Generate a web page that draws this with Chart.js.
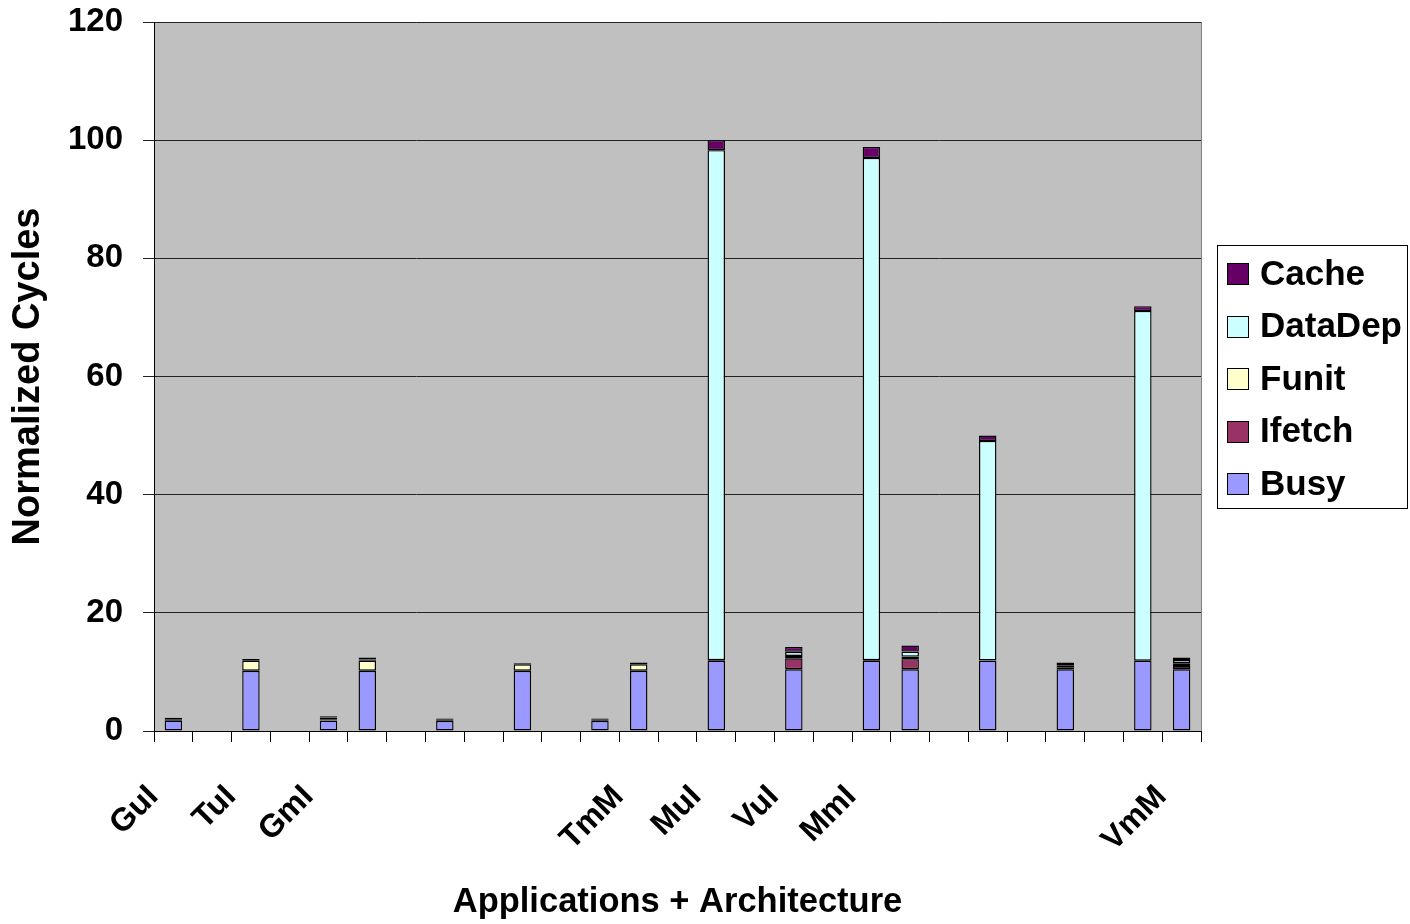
<!DOCTYPE html>
<html>
<head>
<meta charset="utf-8">
<title>Normalized Cycles</title>
<script src="https://cdn.jsdelivr.net/npm/chart.js@4.4.0/dist/chart.umd.min.js"></script>
<style>
  html, body { margin: 0; padding: 0; background: #fff; }
  #wrap { width: 1410px; height: 924px; }
</style>
</head>
<body>
<div id="wrap"><canvas id="c" width="1410" height="924"></canvas></div>
<script>
// Categories along the x axis (blank slots carry no printed name)
const categories = ['GuI', '', 'TuI', '', 'GmI', '', '', '', '', '', '', '', 'TmM', '',
                    'MuI', '', 'VuI', '', 'MmI', '', '', '', '', '', '', '', 'VmM'];

// Stacked cycle components per category
const busy    = [1.75, 0, 10.2, 0, 1.75, 10.2, 0, 1.7, 0, 10.2, 0, 1.7, 10.2, 0, 11.9, 0, 10.45, 0, 11.9, 10.45, 0, 11.9, 0, 10.45, 0, 11.9, 10.45];
const ifetch  = [0, 0, 0, 0, 0.05, 0, 0, 0, 0, 0, 0, 0, 0, 0, 0, 0, 1.85, 0, 0, 1.7, 0, 0, 0, 0.35, 0, 0, 0.55];
const funit   = [0.1, 0, 1.7, 0, 0.1, 1.7, 0, 0.1, 0, 1.1, 0, 0.1, 1.1, 0, 0.1, 0, 0.4, 0, 0.1, 0.45, 0, 0.05, 0, 0.25, 0, 0, 0.45];
const dataDep = [0.15, 0, 0.1, 0, 0.4, 0.2, 0, 0.1, 0, 0.05, 0, 0.1, 0.05, 0, 86.3, 0, 0.7, 0, 85.0, 0.85, 0, 37.15, 0, 0.3, 0, 59.2, 0.55];
const cache   = [0.25, 0, 0.2, 0, 0.2, 0.35, 0, 0.2, 0, 0.1, 0, 0.2, 0.25, 0, 1.7, 0, 0.8, 0, 1.85, 1.0, 0, 0.9, 0, 0.25, 0, 0.8, 0.45];

// Y axis range
const yMin = 0, yMax = 120, yStep = 20;

const FONT = "'Liberation Sans', Arial, Helvetica, sans-serif";

function series(label, data, color) {
  return {
    label, data,
    backgroundColor: color,
    borderColor: '#000',
    borderWidth: 1.4,
    borderSkipped: false,
    barPercentage: 0.45,
    categoryPercentage: 1.0
  };
}

// Gray plot area with a thin gray frame
const plotBackground = {
  id: 'plotBackground',
  beforeDraw(chart) {
    const { ctx, chartArea: a } = chart;
    ctx.save();
    ctx.fillStyle = '#C0C0C0';
    ctx.fillRect(a.left, a.top, a.right - a.left, a.bottom - a.top);
    ctx.strokeStyle = '#808080';
    ctx.lineWidth = 1;
    ctx.strokeRect(Math.round(a.left) + 0.5, Math.round(a.top) + 0.5,
                   Math.round(a.right - a.left), Math.round(a.bottom - a.top));
    ctx.restore();
  }
};

// Boxed legend to the right of the plot, top series first
const boxedLegend = {
  id: 'boxedLegend',
  afterDraw(chart) {
    const { ctx, chartArea: a } = chart;
    const w = 190, h = 263;
    const x0 = Math.round(a.right) + 16;
    const y0 = Math.round((a.top + a.bottom) / 2 - h / 2);
    ctx.save();
    ctx.fillStyle = '#fff';
    ctx.fillRect(x0, y0, w, h);
    ctx.strokeStyle = '#000';
    ctx.lineWidth = 1;
    ctx.strokeRect(x0 + 0.5, y0 + 0.5, w, h);
    const items = chart.data.datasets.slice().reverse();
    ctx.font = `bold 35px ${FONT}`;
    ctx.textBaseline = 'middle';
    ctx.textAlign = 'left';
    items.forEach((d, i) => {
      const cy = y0 + 29 + i * 52.6;
      ctx.fillStyle = d.backgroundColor;
      ctx.fillRect(x0 + 10, Math.round(cy - 11), 22, 22);
      ctx.strokeStyle = '#000';
      ctx.strokeRect(x0 + 10.5, Math.round(cy - 11) + 0.5, 21, 21);
      ctx.fillStyle = '#000';
      ctx.fillText(d.label, x0 + 43, cy + 1);
    });
    ctx.restore();
  }
};

new Chart(document.getElementById('c'), {
  type: 'bar',
  data: {
    labels: categories,
    datasets: [
      series('Busy', busy, '#9999FF'),
      series('Ifetch', ifetch, '#993366'),
      series('Funit', funit, '#FFFFCC'),
      series('DataDep', dataDep, '#CCFFFF'),
      series('Cache', cache, '#660066')
    ]
  },
  options: {
    responsive: false,
    animation: false,
    events: [],
    layout: { padding: { left: 0, top: 22, right: 209, bottom: 0 } },
    plugins: {
      legend: { display: false },
      tooltip: { enabled: false }
    },
    scales: {
      x: {
        stacked: true,
        offset: true,
        grid: { offset: true, drawOnChartArea: false, drawTicks: true, tickLength: 11, color: '#000', lineWidth: 1 },
        border: { color: '#000', width: 1 },
        ticks: {
          autoSkip: false, minRotation: 45, maxRotation: 45,
          padding: 36, labelOffset: -20, color: '#000',
          font: { family: FONT, size: 32, weight: 'bold' }
        },
        title: {
          display: true, text: 'Applications + Architecture', color: '#000',
          font: { family: FONT, size: 34.5, weight: 'bold' },
          padding: { top: 0, bottom: 1 }
        },
        afterFit(scale) { scale.height = 193; }
      },
      y: {
        stacked: true,
        min: yMin, max: yMax,
        ticks: {
          stepSize: yStep, padding: 20, color: '#000',
          font: { family: FONT, size: 33, weight: 'bold' }
        },
        grid: { color: '#222', lineWidth: 1, tickLength: 11 },
        border: { color: '#000', width: 1 },
        title: {
          display: true, text: 'Normalized Cycles', color: '#000',
          font: { family: FONT, size: 38, weight: 'bold' },
          padding: { top: 6, bottom: 0 }
        },
        afterFit(scale) {
          scale.width = 154;
          scale.paddingTop = 0;
          scale.paddingBottom = 0;
        }
      }
    }
  },
  plugins: [plotBackground, boxedLegend]
});
</script>
</body>
</html>
